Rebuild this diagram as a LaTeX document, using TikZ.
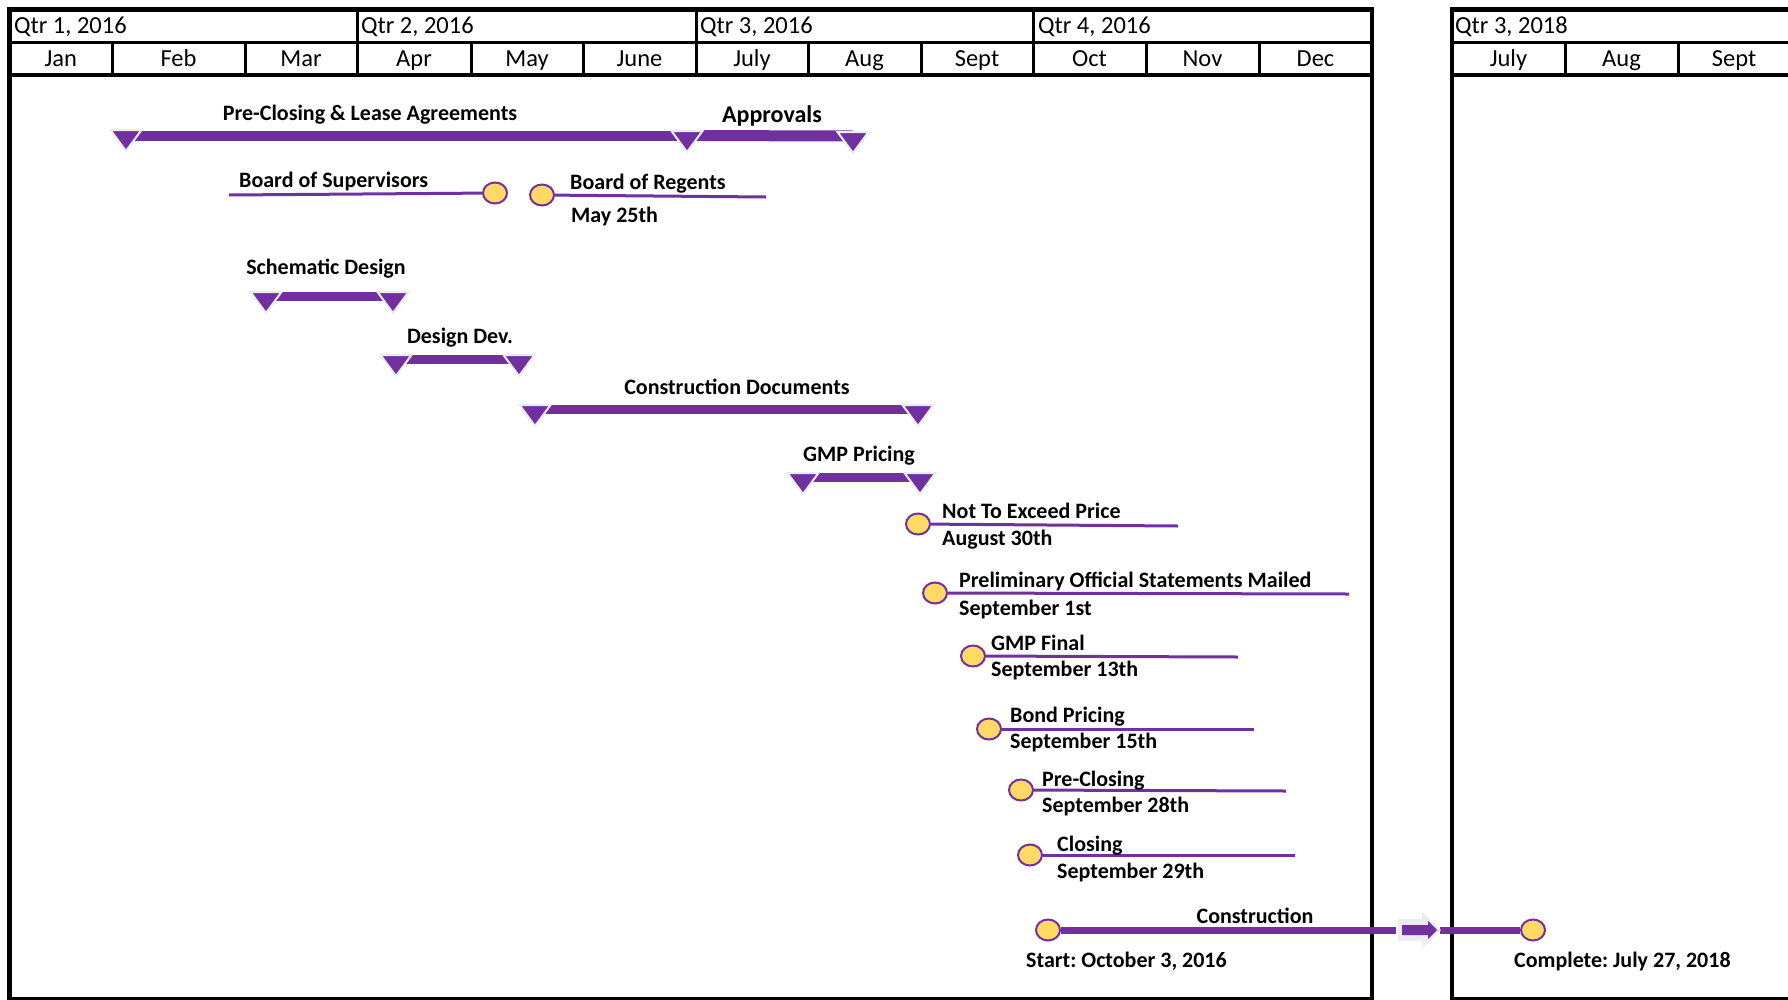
\documentclass[tikz,border=0pt]{standalone}
\usepackage{fontspec}
\setmainfont{Carlito}
\usetikzlibrary{shapes.geometric}
\definecolor{pp}{RGB}{112,48,160}
\definecolor{gold}{RGB}{255,217,102}
\definecolor{glow}{RGB}{236,236,240}
\tikzset{
  frame/.style={line width=4.5pt, black},
  grid/.style={line width=3pt, black},
  hdr/.style={font=\fontsize{24.5}{28}\selectfont, inner sep=0pt},
  lbl/.style={font=\bfseries\fontsize{22}{26}\selectfont, inner sep=0pt, anchor=base west},
  clbl/.style={font=\bfseries\fontsize{22}{26}\selectfont, inner sep=0pt, anchor=base},
  barline/.style={line width=9pt, pp},
  msline/.style={line width=3pt, pp},
  conline/.style={line width=7pt, pp},
  ms/.style={ellipse, minimum width=24pt, minimum height=21pt, fill=gold, draw=pp, line width=2pt, inner sep=0pt},
  mtri/.pic={\path[fill=pp, draw=glow, line width=2pt, line join=miter] (-15.5,0) -- (15.5,0) -- (0,21) -- cycle;}
}
\frenchspacing
\begin{document}
\begin{tikzpicture}[x=1pt,y=-1pt]
\useasboundingbox (0,0) rectangle (1788,999);
% ---------- frames ----------
\draw[frame] (9.5,1002) -- (9.5,9.5) -- (1372,9.5) -- (1372,1002);
\draw[frame] (1452,1002) -- (1452,9.5) -- (1790,9.5);
\draw[frame] (9.5,75) -- (1372,75);
\draw[frame] (1452,75) -- (1790,75);
\draw[frame] (9.5,999.5) -- (1372,999.5);
\draw[frame] (1452,999.5) -- (1790,999.5);
\draw[grid] (9.5,42) -- (1372,42);
\draw[grid] (1452,42) -- (1790,42);
\foreach \x in {357,696,1033} \draw[grid] (\x,9.5) -- (\x,75);
\foreach \x in {112,245,471,583,808,921,1146,1259,1565,1678} \draw[grid] (\x,42) -- (\x,75);
% ---------- header text ----------
\node[hdr, anchor=base west] (q1) at (14,33) {Qtr 1, 2016};
\node[hdr, anchor=base west] (q2) at (361,33) {Qtr 2, 2016};
\node[hdr, anchor=base west] (q3) at (700,33) {Qtr 3, 2016};
\node[hdr, anchor=base west] (q4) at (1038,33) {Qtr 4, 2016};
\node[hdr, anchor=base west] (q5) at (1455,33) {Qtr 3, 2018};
\foreach \a/\b/\m [count=\i] in {9.5/112/Jan, 112/245/Feb, 245/357/Mar, 357/471/Apr, 471/583/May, 583/696/June, 696/808/July, 808/921/Aug, 921/1033/Sept, 1033/1146/Oct, 1146/1259/Nov, 1259/1372/Dec, 1452/1565/July, 1565/1678/Aug, 1678/1790/Sept}
  \node[hdr, anchor=base] (m\i) at ({(\a+\b)/2},66) {\m};
% ---------- bars ----------
\coordinate (pa) at (126,135.5);
\coordinate (pb) at (687,135.5);
\coordinate (pc) at (853,136);
\draw[barline, line width=10pt] (pa) -- (pb);
\draw[barline, line width=11pt] (pb) -- (pc);
\pic at (126,130) {mtri};
\pic at (687,131) {mtri};
\pic at (853,132) {mtri};
\node[clbl] (lpre) at (370,120) {Pre-Closing \& Lease Agreements};
\node[clbl, font=\bfseries\fontsize{24}{28}\selectfont] (lapp) at (772,122) {Approvals};

\coordinate (sa) at (266,296);
\coordinate (sb) at (393,296);
\draw[barline] (sa) -- (sb);
\pic at (266,292) {mtri};
\pic at (393,292) {mtri};
\node[clbl] (lsd) at (326,274) {Schematic Design};

\coordinate (da) at (396,359);
\coordinate (db) at (519,359);
\draw[barline] (da) -- (db);
\pic at (396,355) {mtri};
\pic at (519,355) {mtri};
\node[clbl] (ldd) at (460,343) {Design Dev.};

\coordinate (ca) at (535,409);
\coordinate (cb) at (918,409);
\draw[barline] (ca) -- (cb);
\pic at (535,405) {mtri};
\pic at (918,405) {mtri};
\node[clbl] (lcd) at (737,394) {Construction Documents};

\coordinate (ga) at (803,477);
\coordinate (gb) at (920,477);
\draw[barline] (ga) -- (gb);
\pic at (803,473) {mtri};
\pic at (920,473) {mtri};
\node[clbl] (lgmp) at (859,461) {GMP Pricing};

% ---------- milestones ----------
\node[ms] (bos) at (495,193) {};
\coordinate (bose) at (229,195);
\draw[msline] (bose) -- (bos);
\node[lbl] (lbos) at (239,187) {Board of Supervisors};

\node[ms] (bor) at (542,195) {};
\coordinate (bore) at (766,197);
\draw[msline] (bor) -- (bore);
\node[lbl] (lbor) at (570,189) {Board of Regents};
\node[lbl] (dbor) at (571,222) {May 25th};

\node[ms] (nte) at (918,524) {};
\coordinate (ntee) at (1178,526);
\draw[msline] (nte) -- (ntee);
\node[lbl] (lnte) at (942,518) {Not To Exceed Price};
\node[lbl] (dnte) at (942,545) {August 30th};

\node[ms] (pos) at (935,593) {};
\coordinate (pose) at (1349,594);
\draw[msline] (pos) -- (pose);
\node[lbl] (lpos) at (959,587) {Preliminary Official Statements Mailed};
\node[lbl] (dpos) at (959,615) {September 1st};

\node[ms] (gf) at (973,656) {};
\coordinate (gfe) at (1238,657);
\draw[msline] (gf) -- (gfe);
\node[lbl] (lgf) at (991,650) {GMP Final};
\node[lbl] (dgf) at (991,676) {September 13th};

\node[ms] (bp) at (989,729) {};
\coordinate (bpe) at (1254,729);
\draw[msline] (bp) -- (bpe);
\node[lbl] (lbp) at (1010,722) {Bond Pricing};
\node[lbl] (dbp) at (1010,748) {September 15th};

\node[ms] (pc) at (1021,790) {};
\coordinate (pce) at (1286,791);
\draw[msline] (pc) -- (pce);
\node[lbl] (lpc) at (1042,786) {Pre-Closing};
\node[lbl] (dpc) at (1042,812) {September 28th};

\node[ms] (cl) at (1030,855) {};
\coordinate (cle) at (1295,855);
\draw[msline] (cl) -- (cle);
\node[lbl] (lcl) at (1057,851) {Closing};
\node[lbl] (dcl) at (1057,878) {September 29th};

% ---------- construction ----------
\node[ms] (cs) at (1048,930) {};
\node[ms] (ce) at (1533,930) {};
\coordinate (cbreak) at (1396,930);
\coordinate (cresume) at (1440,930);
\draw[conline] (cs) -- (cbreak);
\draw[conline] (cresume) -- (ce);
\fill[glow] (1398,919) -- (1422,919) -- (1422,912) -- (1441,930) -- (1422,948) -- (1422,941) -- (1398,941) -- cycle;
\fill[pp] (1402,925) -- (1428,925) -- (1428,921) -- (1437,930) -- (1428,939) -- (1428,935) -- (1402,935) -- cycle;
\node[clbl] (lcon) at (1255,923) {Construction};
\node[lbl] (dcs) at (1026,967) {Start: October 3, 2016};
\node[lbl] (dce) at (1514,967) {Complete: July 27, 2018};
\end{tikzpicture}
\end{document}
